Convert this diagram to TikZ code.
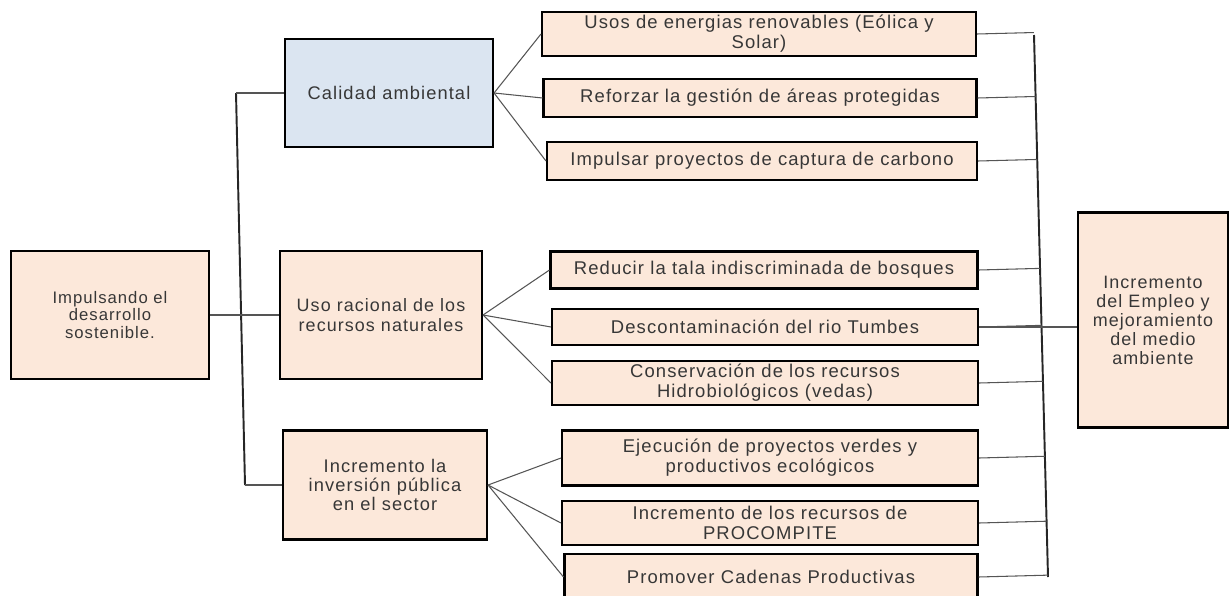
\documentclass[tikz,border=0pt]{standalone}
\usepackage{fontspec}
\setmainfont{Liberation Sans}[LetterSpace=6]
\usepackage{xcolor}
\usepackage{tikz}
\usetikzlibrary{calc}
\definecolor{boxPeach}{RGB}{252,232,218}
\definecolor{boxBlue}{RGB}{219,229,241}
\definecolor{txtGray}{RGB}{55,55,55}
\definecolor{lineGray}{RGB}{85,85,85}

\begin{document}
\begin{tikzpicture}[x=0.02cm, y=-0.02cm,
  cajon/.style={draw=black, line width=1.2pt, fill=boxPeach, text=txtGray,
                align=center, inner sep=2pt, font=\fontsize{10.5}{11.5}\selectfont},
  enlace/.style={lineGray, line width=0.6pt},
  tronco/.style={black!85, line width=1.1pt}]
  \useasboundingbox (0,0) rectangle (1229,595);
  % --- first and second level boxes --------------------------------------
  \node[cajon, minimum width=3.96cm, minimum height=2.56cm,
        font=\fontsize{9.5}{10.2}\selectfont] (raiz) at (110,315)
        {Impulsando el\\desarrollo\\sostenible.};
  \node[cajon, fill=boxBlue, minimum width=4.16cm, minimum height=2.16cm,
        font=\fontsize{10.4}{11}\selectfont] (calidad) at (389,93) {Calidad ambiental};
  \node[cajon, minimum width=4.04cm, minimum height=2.56cm,
        font=\fontsize{10.2}{11.5}\selectfont] (uso) at (381,315)
        {Uso racional de los\\recursos naturales};
  \node[cajon, minimum width=4.08cm, minimum height=2.18cm,
        font=\fontsize{10.4}{11}\selectfont] (inversion) at (385,485)
        {Incremento la\\inversión pública\\en el sector};
  % --- the nine actions (third level) ------------------------------------
  \foreach \nom/\cx/\cy/\w/\h/\txt in {
      usos/759/34/8.68/0.88/{Usos de energias renovables (Eólica y\\Solar)},
      reforzar/760/98/8.66/0.76/{Reforzar la gestión de áreas protegidas},
      impulsar/762/161/8.60/0.76/{Impulsar proyectos de captura de carbono},
      reducir/764/270/8.54/0.74/{Reducir la tala indiscriminada de bosques},
      descont/765/327/8.52/0.72/{Descontaminación del rio Tumbes},
      conserv/765/383/8.52/0.88/{Conservación de los recursos\\Hidrobiológicos (vedas)},
      ejecucion/770/458/8.32/1.10/{Ejecución de proyectos verdes y\\productivos ecológicos},
      procompite/770/523/8.32/0.88/{Incremento de los recursos de\\PROCOMPITE},
      promover/771/577/8.26/0.92/{Promover Cadenas Productivas}} {
     \node[cajon, minimum width=\w cm, minimum height=\h cm] (\nom) at (\cx,\cy) {\txt};
  }
  % --- goal box ---------------------------------------------------------------
  \node[cajon, minimum width=3.0cm, minimum height=4.3cm,
        font=\fontsize{10.2}{10.8}\selectfont] (meta) at (1153,320)
        {Incremento\\del Empleo y\\mejoramiento\\del medio\\ambiente};
  % --- left trunk ---------------------------------------------------------------
  \coordinate (ltop) at (236,93);
  \coordinate (lbot) at (245,485);
  \draw[tronco] (ltop) -- (lbot);
  \draw[enlace] (calidad.west) -- (ltop);
  \draw[enlace] (inversion.west) -- (lbot);
  \draw[enlace] (raiz.east) -- (uso.west);
  % --- fans to the actions ----------------------------------------------------
  \foreach \hijo in {usos,reforzar,impulsar}
     \draw[enlace] (calidad.east) -- (\hijo.west);
  \foreach \hijo in {reducir,descont,conserv}
     \draw[enlace] (uso.east) -- (\hijo.west);
  \foreach \hijo in {ejecucion,procompite,promover}
     \draw[enlace] (inversion.east) -- (\hijo.west);
  % --- right trunk ------------------------------------------------------------
  \coordinate (rtop) at (1034,35);
  \coordinate (rbot) at (1048,577);
  \draw[tronco] (rtop) -- (rbot);
  \foreach \hijo in {usos,reforzar,impulsar,reducir,descont,conserv,ejecucion,procompite,promover}
     \draw[enlace] (\hijo.east) -- ($(rtop)!(\hijo.east)!(rbot)$);
  \draw[enlace] (descont.east) -- (descont.east -| meta.west);
\end{tikzpicture}
\end{document}
